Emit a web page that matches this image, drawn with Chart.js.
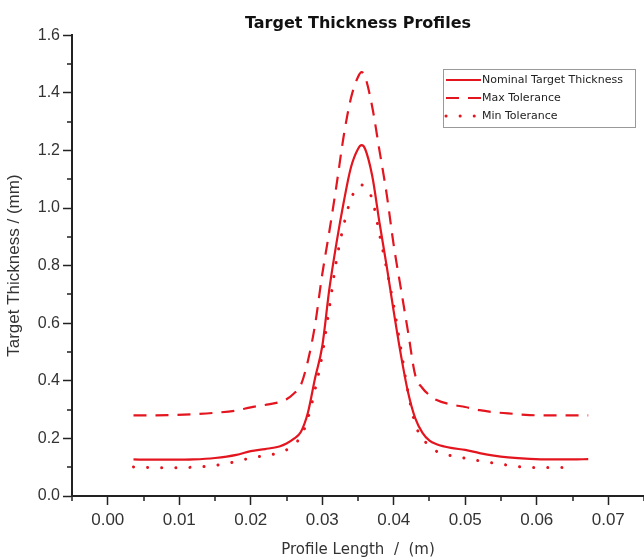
<!DOCTYPE html>
<html lang="en">
  <head>
    <meta charset="UTF-8" />
    <title>Target Thickness Profiles</title>
    <script src="https://cdn.jsdelivr.net/npm/chart.js@4.4.1/dist/chart.umd.min.js"></script>
    <style>
      body {
        margin: 0;
        background: #fff;
      }
    </style>
  </head>
  <body>
    <canvas id="profileChart" width="644" height="559"></canvas>

    <script>
      // Profile positions (m) shared by the three curves
      const profileX = [
        0.0036, 0.006, 0.009, 0.012, 0.015, 0.018, 0.02, 0.022, 0.024, 0.025,
        0.026, 0.027, 0.028, 0.029, 0.03, 0.031, 0.032, 0.033, 0.034, 0.035,
        0.0355, 0.036, 0.037, 0.038, 0.039, 0.04, 0.041, 0.042, 0.043, 0.044,
        0.045, 0.046, 0.048, 0.05, 0.052, 0.054, 0.056, 0.059, 0.062, 0.065,
        0.0672,
      ];

      // Thickness values (mm)
      const nominal = [
        0.127, 0.126, 0.126, 0.127, 0.132, 0.143, 0.156, 0.163, 0.172, 0.182,
        0.198, 0.222, 0.29, 0.41, 0.52, 0.72, 0.88, 1.02, 1.14, 1.205,
        1.218, 1.205, 1.11, 0.95, 0.8, 0.64, 0.49, 0.36, 0.27, 0.22,
        0.192, 0.18, 0.167, 0.16, 0.149, 0.14, 0.134, 0.129, 0.127, 0.127,
        0.128,
      ];
      const maxTol = [
        0.28, 0.28, 0.281, 0.284, 0.289, 0.297, 0.308, 0.316, 0.326, 0.336,
        0.355, 0.385, 0.47, 0.595, 0.77, 0.92, 1.08, 1.25, 1.38, 1.455,
        1.472, 1.455, 1.35, 1.2, 1.05, 0.87, 0.72, 0.57, 0.42, 0.375,
        0.35, 0.333, 0.318, 0.309, 0.298, 0.291, 0.287, 0.281, 0.28, 0.28,
        0.28,
      ];
      const minTol = [
        0.101, 0.099, 0.098, 0.1, 0.106, 0.12, 0.132, 0.14, 0.15, 0.16,
        0.18, 0.205, 0.27, 0.37, 0.49, 0.655, 0.82, 0.94, 1.03, 1.075,
        1.08, 1.07, 1.03, 0.91, 0.79, 0.66, 0.51, 0.36, 0.25, 0.2,
        0.175, 0.155, 0.14, 0.131, 0.122, 0.114, 0.107, 0.099, 0.099, 0.1,
        null,
      ];

      const seriesNames = ["Nominal Target Thickness", "Max Tolerance", "Min Tolerance"];

      const red = "#e3151f";
      const inkColor = "#333";
      const axisColor = "#222";

      const toPoints = (vals) =>
        profileX.map((x, i) => ({ x: x, y: vals[i] }));

      const isMajorX = (v) => Math.abs(v * 100 - Math.round(v * 100)) < 1e-6;

      // short minor ticks halfway between the labelled ones
      const minorTicks = {
        id: "minorTicks",
        afterDraw(chart) {
          const ctx = chart.ctx;
          const xs = chart.scales.x;
          const ys = chart.scales.y;
          ctx.save();
          ctx.strokeStyle = axisColor;
          ctx.lineWidth = 1.5;
          ctx.beginPath();
          xs.ticks.forEach((t) => {
            if (isMajorX(t.value)) return;
            const px = Math.round(xs.getPixelForValue(t.value));
            ctx.moveTo(px, ys.bottom);
            ctx.lineTo(px, ys.bottom + 5);
          });
          for (let v = 0.1; v < 1.6; v += 0.2) {
            const py = Math.round(ys.getPixelForValue(v));
            ctx.moveTo(xs.left, py);
            ctx.lineTo(xs.left - 5, py);
          }
          ctx.stroke();
          ctx.restore();
        },
      };

      // boxed legend in the upper right corner of the plot
      const boxLegend = {
        id: "boxLegend",
        afterDraw(chart) {
          const ctx = chart.ctx;
          const left = 443;
          const top = 69;
          const w = 192;
          const h = 58;
          ctx.save();
          ctx.fillStyle = "#fff";
          ctx.fillRect(left, top, w, h);
          ctx.strokeStyle = "#999";
          ctx.lineWidth = 1;
          ctx.strokeRect(left + 0.5, top + 0.5, w, h);
          ctx.font = "11px 'DejaVu Sans'";
          ctx.textBaseline = "middle";
          chart.data.datasets.forEach((ds, i) => {
            const cy = top + 11 + i * 18;
            ctx.strokeStyle = ds.borderColor;
            ctx.lineWidth = ds.borderWidth;
            ctx.lineCap = ds.borderCapStyle || "butt";
            ctx.setLineDash(ds.borderDash || []);
            ctx.beginPath();
            ctx.moveTo(left + 3, cy);
            ctx.lineTo(left + 38, cy);
            ctx.stroke();
            ctx.setLineDash([]);
            ctx.fillStyle = "#222";
            ctx.fillText(ds.label, left + 39, cy);
          });
          ctx.restore();
        },
      };

      new Chart(document.getElementById("profileChart"), {
        type: "line",
        data: {
          datasets: [
            {
              label: seriesNames[0],
              data: toPoints(nominal),
              borderColor: red,
              borderWidth: 2.2,
            },
            {
              label: seriesNames[1],
              data: toPoints(maxTol),
              borderColor: red,
              borderWidth: 2.2,
              borderDash: [13, 9],
            },
            {
              label: seriesNames[2],
              data: toPoints(minTol),
              borderColor: red,
              borderWidth: 3,
              borderCapStyle: "round",
              borderDash: [0.1, 14],
            },
          ],
        },
        options: {
          responsive: false,
          animation: false,
          layout: { padding: 0 },
          elements: {
            point: { radius: 0 },
            line: { cubicInterpolationMode: "monotone", fill: false },
          },
          plugins: {
            legend: { display: false },
            tooltip: { enabled: false },
            title: {
              display: true,
              fullSize: false,
              text: "Target Thickness Profiles",
              color: "#111",
              font: { family: "'DejaVu Sans'", size: 16, weight: "bold" },
              padding: { top: 14, bottom: 2 },
            },
          },
          scales: {
            x: {
              type: "linear",
              min: -0.005,
              max: 0.075,
              afterFit: (s) => {
                s.height = 63;
                s.paddingLeft = 0;
                s.paddingRight = 0;
              },
              border: { display: true, color: axisColor, width: 2 },
              grid: {
                drawOnChartArea: false,
                color: axisColor,
                tickColor: (c) =>
                  c.tick && isMajorX(c.tick.value) ? axisColor : "rgba(0,0,0,0)",
                tickLength: 9,
                tickWidth: 1.5,
              },
              ticks: {
                stepSize: 0.005,
                autoSkip: false,
                maxRotation: 0,
                color: inkColor,
                padding: 5,
                font: { family: "'Liberation Sans'", size: 17 },
                callback: (v) => (isMajorX(v) ? v.toFixed(2) : ""),
              },
              title: {
                display: true,
                text: "Profile Length  /  (m)",
                color: inkColor,
                font: { family: "'DejaVu Sans'", size: 15 },
                padding: { top: 9, bottom: 0 },
              },
            },
            y: {
              min: 0,
              max: 1.6,
              afterFit: (s) => {
                s.width = 72;
              },
              border: { display: true, color: axisColor, width: 2 },
              grid: {
                drawOnChartArea: false,
                color: axisColor,
                tickLength: 9,
                tickWidth: 1.5,
              },
              ticks: {
                stepSize: 0.2,
                color: inkColor,
                padding: 3,
                font: { family: "'Liberation Sans'", size: 16 },
                callback: (v) => v.toFixed(1),
              },
              title: {
                display: true,
                text: "Target Thickness / (mm)",
                color: inkColor,
                font: { family: "'Liberation Sans'", size: 17 },
                padding: { top: 4, bottom: 4 },
              },
            },
          },
        },
        plugins: [minorTicks, boxLegend],
      });
    </script>
  </body>
</html>
